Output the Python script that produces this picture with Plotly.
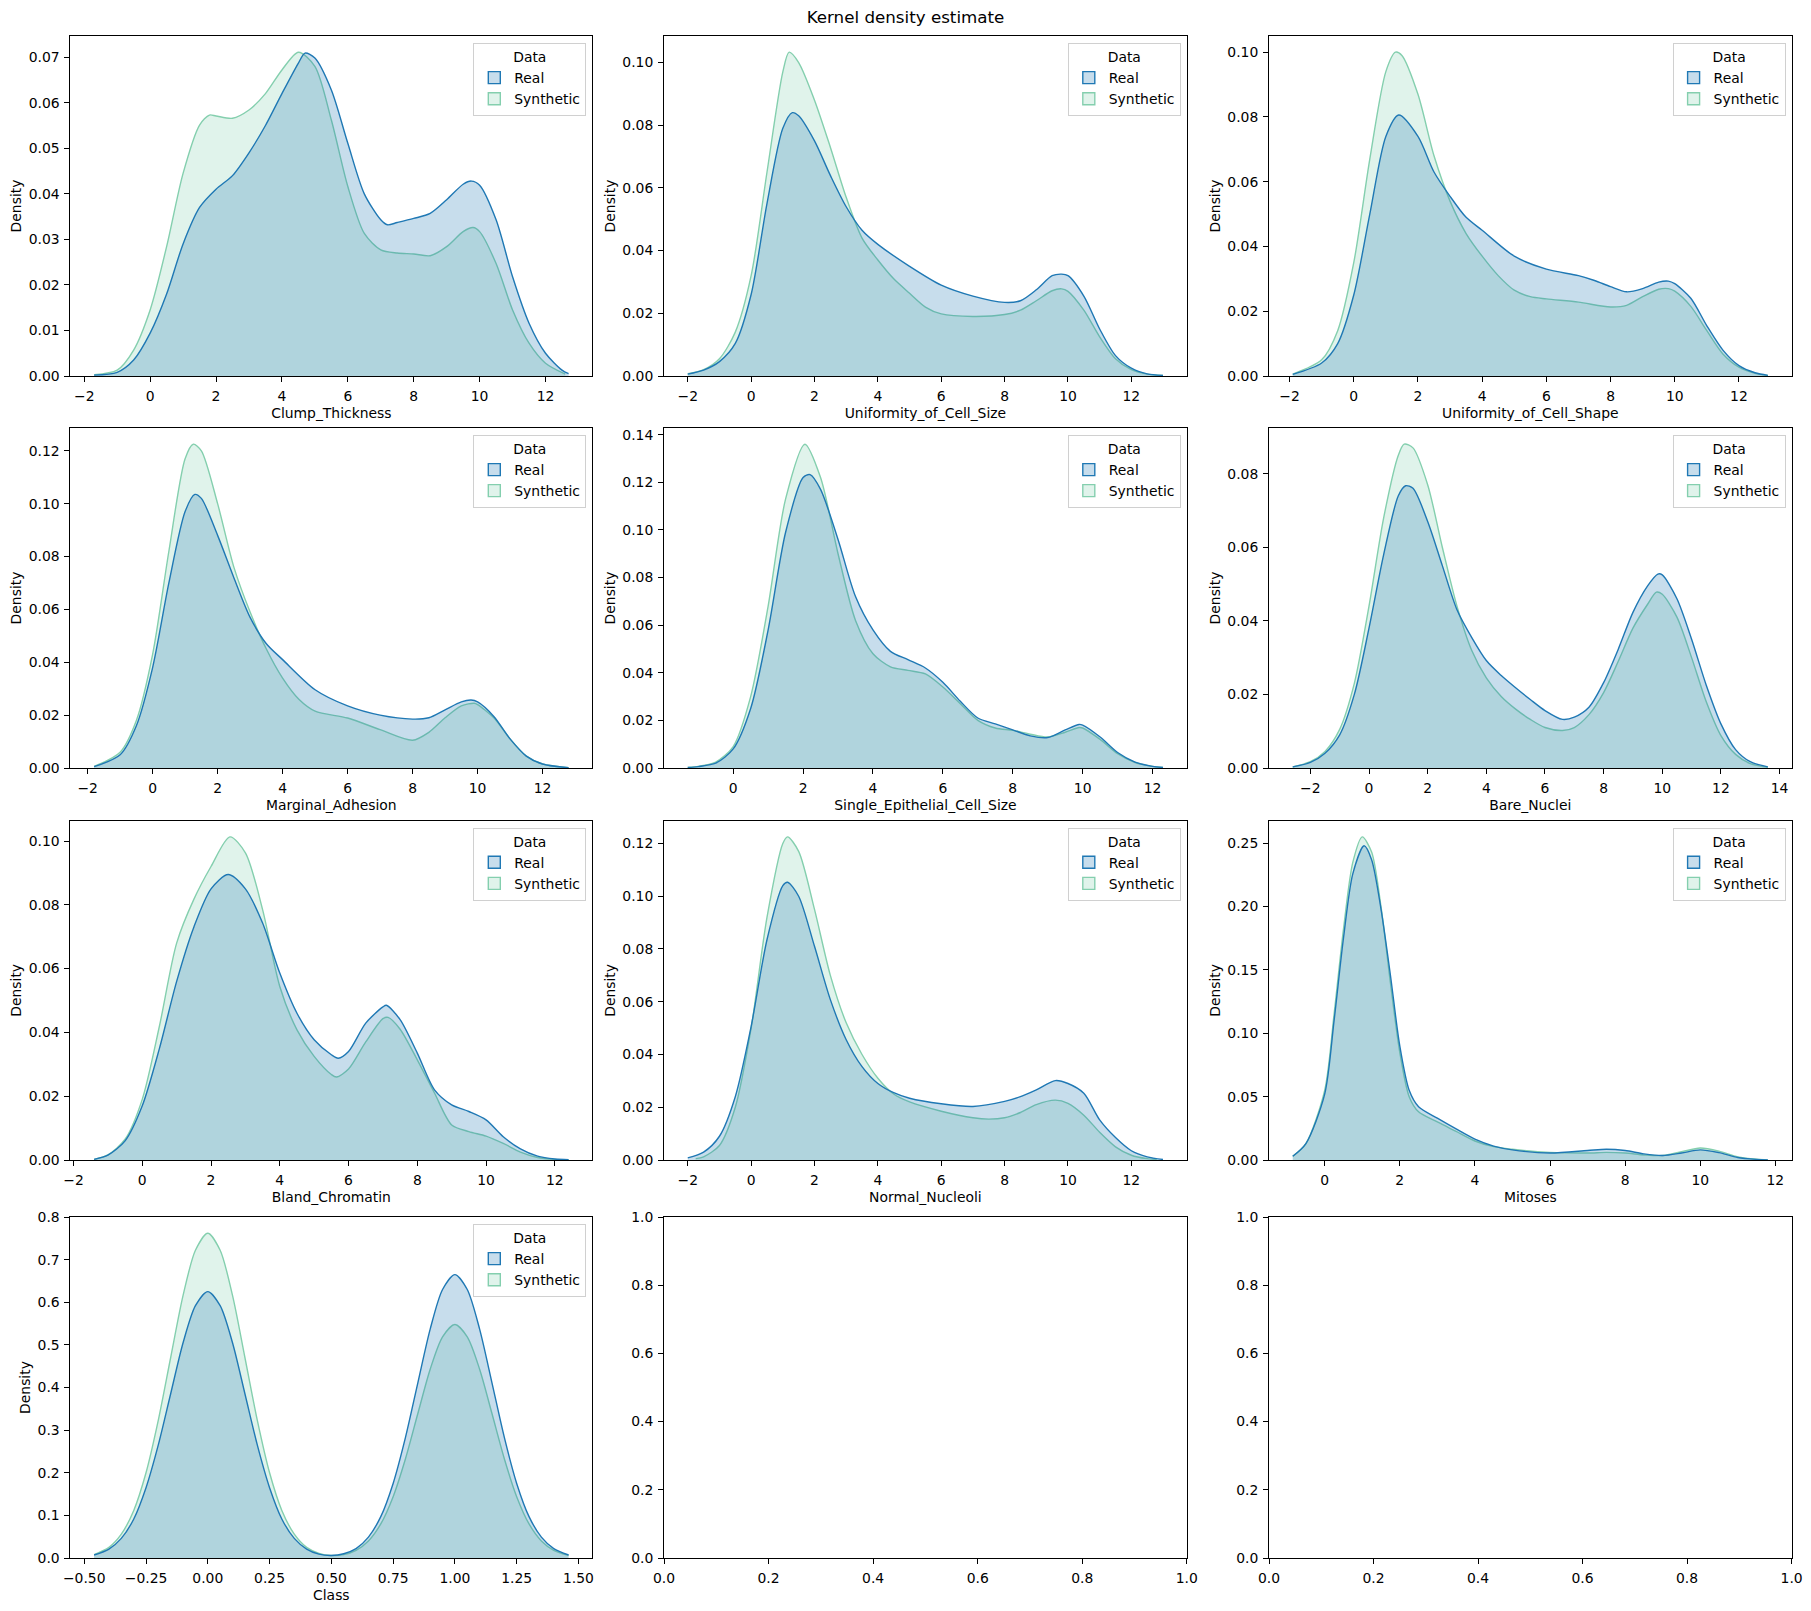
import plotly.graph_objects as go

# ---------------- data ----------------
FEATURES = ["Clump_Thickness", "Uniformity_of_Cell_Size", "Uniformity_of_Cell_Shape",
            "Marginal_Adhesion", "Single_Epithelial_Cell_Size", "Bare_Nuclei",
            "Bland_Chromatin", "Normal_Nucleoli", "Mitoses", "Class"]
SERIES = ["Real", "Synthetic"]

ct_real_x = [-1.7, -1.0, -0.5, 0.0, 0.5, 1.0, 1.5, 2.0, 2.5, 3.0, 3.5, 4.0, 4.5, 4.7, 5.0, 5.5, 6.0, 6.5, 7.0, 7.2, 7.5, 8.0, 8.5, 9.0, 9.5, 9.75, 10.0, 10.5, 11.0, 11.5, 12.0, 12.5, 12.7]
ct_real_y = [0.0002, 0.0008, 0.0035, 0.0094, 0.018, 0.029, 0.037, 0.041, 0.044, 0.049, 0.055, 0.062, 0.0687, 0.0709, 0.0698, 0.0628, 0.0511, 0.040, 0.0343, 0.0332, 0.0337, 0.0346, 0.0357, 0.0387, 0.0421, 0.0428, 0.0419, 0.0343, 0.0218, 0.0116, 0.005, 0.0013, 0.0005]
ct_syn_x = [-1.7, -1.0, -0.5, 0.0, 0.5, 1.0, 1.5, 1.8, 2.0, 2.5, 3.0, 3.5, 4.0, 4.5, 5.0, 5.5, 6.0, 6.5, 7.0, 7.5, 8.0, 8.5, 9.0, 9.5, 9.8, 10.0, 10.5, 11.0, 11.5, 12.0, 12.6]
ct_syn_y = [0.0003, 0.0013, 0.0057, 0.0145, 0.0284, 0.0445, 0.0551, 0.0573, 0.0571, 0.0566, 0.0584, 0.062, 0.0672, 0.0711, 0.068, 0.0562, 0.0416, 0.0313, 0.0277, 0.027, 0.0268, 0.0264, 0.0284, 0.0317, 0.0326, 0.0317, 0.0247, 0.0145, 0.0072, 0.0028, 0.0004]

ucs_real_x = [-2.0, -1.5, -1.0, -0.5, 0.0, 0.5, 1.0, 1.3, 1.5, 2.0, 2.5, 3.0, 3.5, 4.0, 5.0, 6.0, 7.0, 8.0, 8.5, 9.0, 9.5, 9.8, 10.0, 10.5, 11.0, 11.5, 12.0, 12.5, 13.0]
ucs_real_y = [0.0006, 0.0019, 0.0046, 0.0104, 0.026, 0.055, 0.079, 0.084, 0.083, 0.075, 0.064, 0.054, 0.0465, 0.042, 0.035, 0.029, 0.0255, 0.0235, 0.024, 0.0275, 0.032, 0.0325, 0.032, 0.0255, 0.015, 0.0065, 0.0025, 0.0007, 0.0002]
ucs_syn_x = [-2.0, -1.5, -1.0, -0.5, 0.0, 0.5, 1.0, 1.2, 1.5, 2.0, 2.5, 3.0, 3.5, 4.0, 4.5, 5.0, 5.5, 6.0, 7.0, 8.0, 8.5, 9.0, 9.5, 9.8, 10.0, 10.5, 11.0, 11.5, 12.0, 12.5, 13.0]
ucs_syn_y = [0.0007, 0.002, 0.0055, 0.014, 0.032, 0.065, 0.097, 0.1033, 0.1, 0.088, 0.073, 0.057, 0.044, 0.037, 0.031, 0.0264, 0.022, 0.0198, 0.019, 0.0196, 0.021, 0.024, 0.0272, 0.0278, 0.027, 0.021, 0.0125, 0.0055, 0.002, 0.0006, 0.0002]

ucsh_real_x = [-1.9, -1.0, -0.5, 0.0, 0.5, 1.0, 1.4, 2.0, 2.5, 3.0, 3.5, 4.0, 5.0, 6.0, 7.0, 7.5, 8.0, 8.5, 9.0, 9.5, 9.8, 10.0, 10.5, 11.0, 11.5, 12.0, 12.5, 12.9]
ucsh_real_y = [0.0005, 0.004, 0.01, 0.025, 0.05, 0.074, 0.0806, 0.074, 0.063, 0.0555, 0.049, 0.045, 0.037, 0.033, 0.031, 0.0295, 0.0276, 0.026, 0.027, 0.029, 0.0293, 0.0285, 0.024, 0.0155, 0.008, 0.0032, 0.001, 0.0002]
ucsh_syn_x = [-1.9, -1.0, -0.5, 0.0, 0.5, 1.0, 1.3, 1.5, 2.0, 2.5, 3.0, 3.5, 4.0, 4.5, 5.0, 5.5, 6.0, 7.0, 8.0, 8.5, 9.0, 9.5, 9.8, 10.0, 10.5, 11.0, 11.5, 12.0, 12.5, 12.9]
ucsh_syn_y = [0.0006, 0.005, 0.014, 0.035, 0.067, 0.094, 0.100, 0.099, 0.087, 0.068, 0.054, 0.044, 0.037, 0.031, 0.0265, 0.0245, 0.0238, 0.0228, 0.0213, 0.0218, 0.0245, 0.0268, 0.027, 0.0262, 0.0215, 0.014, 0.0068, 0.0027, 0.0008, 0.0002]

ma_real_x = [-1.8, -1.0, -0.5, 0.0, 0.5, 1.0, 1.3, 1.5, 2.0, 2.5, 3.0, 3.5, 4.0, 5.0, 6.0, 7.0, 8.0, 8.5, 9.0, 9.5, 9.8, 10.0, 10.5, 11.0, 11.5, 12.0, 12.8]
ma_real_y = [0.0005, 0.005, 0.016, 0.038, 0.07, 0.097, 0.1035, 0.102, 0.088, 0.072, 0.057, 0.047, 0.041, 0.0296, 0.0235, 0.020, 0.0185, 0.019, 0.022, 0.025, 0.0257, 0.025, 0.0195, 0.011, 0.0045, 0.0015, 0.0001]
ma_syn_x = [-1.8, -1.0, -0.5, 0.0, 0.5, 1.0, 1.25, 1.5, 2.0, 2.5, 3.0, 3.5, 4.0, 4.5, 5.0, 6.0, 7.0, 8.0, 8.5, 9.0, 9.5, 9.9, 10.0, 10.5, 11.0, 11.5, 12.0, 12.8]
ma_syn_y = [0.0006, 0.006, 0.018, 0.043, 0.082, 0.117, 0.1225, 0.12, 0.1, 0.076, 0.059, 0.045, 0.034, 0.026, 0.0215, 0.0189, 0.0145, 0.0105, 0.0135, 0.019, 0.0235, 0.0245, 0.024, 0.019, 0.011, 0.0045, 0.0015, 0.0001]

secs_real_x = [-1.3, -1.0, -0.5, 0.0, 0.5, 1.0, 1.5, 2.0, 2.2, 2.5, 3.0, 3.5, 4.0, 4.5, 5.0, 5.5, 6.0, 6.5, 7.0, 7.5, 8.0, 8.5, 9.0, 9.5, 9.9, 10.0, 10.5, 11.0, 11.5, 12.0, 12.3]
secs_real_y = [0.0002, 0.0006, 0.002, 0.008, 0.025, 0.058, 0.099, 0.122, 0.1232, 0.117, 0.096, 0.072, 0.058, 0.049, 0.0455, 0.042, 0.036, 0.028, 0.021, 0.0185, 0.016, 0.0135, 0.0128, 0.016, 0.0183, 0.018, 0.013, 0.0065, 0.0025, 0.0007, 0.0002]
secs_syn_x = [-1.3, -1.0, -0.5, 0.0, 0.5, 1.0, 1.5, 2.05, 2.5, 3.0, 3.5, 4.0, 4.5, 5.0, 5.5, 6.0, 6.5, 7.0, 7.5, 8.0, 8.5, 9.0, 9.5, 9.9, 10.0, 10.5, 11.0, 11.5, 12.0, 12.3]
secs_syn_y = [0.0002, 0.0007, 0.0025, 0.009, 0.03, 0.068, 0.113, 0.136, 0.122, 0.090, 0.062, 0.048, 0.0425, 0.041, 0.0395, 0.034, 0.027, 0.020, 0.0168, 0.0158, 0.0142, 0.013, 0.015, 0.017, 0.0168, 0.012, 0.006, 0.0023, 0.0007, 0.0002]

bn_real_x = [-2.6, -2.0, -1.5, -1.0, -0.5, 0.0, 0.5, 1.0, 1.25, 1.5, 2.0, 2.5, 3.0, 3.5, 4.0, 4.5, 5.0, 5.5, 6.0, 6.6, 7.0, 7.5, 8.0, 8.5, 9.0, 9.5, 9.85, 10.0, 10.5, 11.0, 11.5, 12.0, 12.5, 13.0, 13.6]
bn_real_y = [0.0003, 0.0015, 0.004, 0.009, 0.02, 0.038, 0.058, 0.074, 0.0767, 0.076, 0.067, 0.055, 0.043, 0.0355, 0.0292, 0.0252, 0.0218, 0.0186, 0.0156, 0.0132, 0.0138, 0.0165, 0.0232, 0.0323, 0.0423, 0.0495, 0.0527, 0.0525, 0.046, 0.035, 0.0225, 0.012, 0.005, 0.0017, 0.0003]
bn_syn_x = [-2.6, -2.0, -1.5, -1.0, -0.5, 0.0, 0.5, 1.0, 1.2, 1.5, 2.0, 2.5, 3.0, 3.5, 4.0, 4.5, 5.0, 5.5, 6.0, 6.6, 7.0, 7.5, 8.0, 8.5, 9.0, 9.5, 9.8, 10.0, 10.5, 11.0, 11.5, 12.0, 12.5, 13.0, 13.6]
bn_syn_y = [0.0003, 0.0017, 0.0045, 0.0105, 0.023, 0.044, 0.068, 0.085, 0.088, 0.087, 0.077, 0.060, 0.044, 0.032, 0.0245, 0.0195, 0.016, 0.0132, 0.011, 0.0102, 0.011, 0.0145, 0.0205, 0.029, 0.038, 0.0445, 0.0478, 0.0472, 0.041, 0.03, 0.018, 0.0088, 0.0037, 0.0012, 0.0002]

bc_real_x = [-1.4, -1.0, -0.5, 0.0, 0.5, 1.0, 1.5, 2.0, 2.5, 3.0, 3.5, 4.0, 4.5, 5.0, 5.5, 5.7, 6.0, 6.5, 7.0, 7.1, 7.5, 8.0, 8.5, 9.0, 9.5, 10.0, 10.5, 11.0, 11.5, 12.0, 12.4]
bc_real_y = [0.0002, 0.0015, 0.006, 0.017, 0.035, 0.056, 0.073, 0.085, 0.0895, 0.085, 0.0743, 0.0586, 0.046, 0.0377, 0.033, 0.0319, 0.034, 0.0429, 0.048, 0.0485, 0.044, 0.0335, 0.022, 0.0173, 0.0152, 0.0126, 0.0073, 0.0035, 0.0012, 0.0003, 0.0001]
bc_syn_x = [-1.4, -1.0, -0.5, 0.0, 0.5, 1.0, 1.5, 2.0, 2.55, 3.0, 3.5, 4.0, 4.5, 5.0, 5.5, 5.65, 6.0, 6.5, 7.0, 7.15, 7.5, 8.0, 8.5, 9.0, 9.5, 10.0, 10.5, 11.0, 11.5, 12.0, 12.4]
bc_syn_y = [0.0002, 0.0016, 0.0065, 0.019, 0.042, 0.068, 0.0817, 0.092, 0.1013, 0.0963, 0.0785, 0.0544, 0.0408, 0.0325, 0.0268, 0.026, 0.0285, 0.037, 0.0443, 0.0447, 0.041, 0.0314, 0.021, 0.011, 0.0089, 0.0075, 0.0052, 0.0025, 0.0008, 0.0002, 0.0001]

nn_real_x = [-2.0, -1.5, -1.0, -0.5, 0.0, 0.5, 1.0, 1.15, 1.5, 2.0, 2.5, 3.0, 3.5, 4.0, 4.5, 5.0, 6.0, 7.0, 8.0, 8.5, 9.0, 9.6, 10.0, 10.5, 11.0, 11.5, 12.0, 12.5, 13.0]
nn_real_y = [0.0008, 0.003, 0.009, 0.024, 0.0506, 0.0835, 0.104, 0.1053, 0.1, 0.081, 0.0608, 0.0456, 0.0354, 0.029, 0.0255, 0.0234, 0.0213, 0.0203, 0.0222, 0.024, 0.0266, 0.0301, 0.029, 0.0253, 0.0152, 0.0085, 0.0035, 0.0012, 0.0002]
nn_syn_x = [-1.75, -1.5, -1.0, -0.5, 0.0, 0.5, 1.0, 1.15, 1.5, 2.0, 2.5, 3.0, 3.5, 4.0, 4.5, 5.0, 6.0, 7.0, 7.5, 8.0, 8.5, 9.0, 9.6, 10.0, 10.5, 11.0, 11.5, 12.0, 12.5, 12.8]
nn_syn_y = [0.0005, 0.0012, 0.0055, 0.02, 0.05, 0.092, 0.12, 0.1225, 0.117, 0.095, 0.07, 0.052, 0.04, 0.031, 0.025, 0.022, 0.0185, 0.016, 0.0155, 0.016, 0.018, 0.021, 0.0227, 0.0215, 0.017, 0.0105, 0.005, 0.0018, 0.0005, 0.0002]

mi_real_x = [-0.85, -0.5, 0.0, 0.25, 0.5, 0.75, 1.05, 1.25, 1.5, 1.75, 2.0, 2.25, 2.5, 3.0, 3.5, 4.0, 4.5, 5.0, 6.0, 7.0, 7.5, 8.0, 8.5, 9.0, 9.5, 10.0, 10.5, 11.0, 11.5, 11.8]
mi_real_y = [0.003, 0.013, 0.052, 0.11, 0.175, 0.226, 0.248, 0.237, 0.198, 0.146, 0.09, 0.055, 0.042, 0.033, 0.0245, 0.0165, 0.011, 0.008, 0.0055, 0.0075, 0.0085, 0.0075, 0.0048, 0.0035, 0.0055, 0.008, 0.0058, 0.002, 0.0005, 0.0001]
mi_syn_x = [-0.85, -0.5, 0.0, 0.25, 0.5, 0.75, 1.0, 1.25, 1.5, 1.75, 2.0, 2.25, 2.5, 3.0, 3.5, 4.0, 4.5, 5.0, 6.0, 7.0, 7.5, 8.0, 8.5, 9.0, 9.5, 10.0, 10.5, 11.0, 11.5, 11.8]
mi_syn_y = [0.003, 0.013, 0.055, 0.115, 0.182, 0.235, 0.255, 0.243, 0.2, 0.14, 0.085, 0.05, 0.038, 0.03, 0.0225, 0.015, 0.0105, 0.0085, 0.006, 0.0055, 0.006, 0.0055, 0.004, 0.0035, 0.0065, 0.0095, 0.007, 0.0025, 0.0006, 0.0001]

cl_x = [-0.46, -0.40, -0.35, -0.30, -0.25, -0.20, -0.15, -0.10, -0.05, 0.00, 0.05, 0.10, 0.15, 0.20, 0.25, 0.30, 0.35, 0.40, 0.45, 0.50,
        0.55, 0.60, 0.65, 0.70, 0.75, 0.80, 0.85, 0.90, 0.95, 1.00, 1.05, 1.10, 1.15, 1.20, 1.25, 1.30, 1.35, 1.40, 1.46]
cl_real_y = [0.007, 0.021, 0.046, 0.091, 0.165, 0.266, 0.386, 0.505, 0.592, 0.625, 0.592, 0.505, 0.386, 0.266, 0.165, 0.091, 0.046, 0.021, 0.009, 0.006,
             0.010, 0.022, 0.049, 0.097, 0.175, 0.283, 0.411, 0.537, 0.630, 0.665, 0.630, 0.537, 0.411, 0.283, 0.175, 0.097, 0.049, 0.022, 0.007]
cl_syn_y = [0.008, 0.025, 0.056, 0.111, 0.200, 0.324, 0.471, 0.616, 0.722, 0.762, 0.722, 0.616, 0.471, 0.324, 0.200, 0.111, 0.056, 0.025, 0.011, 0.006,
            0.008, 0.018, 0.040, 0.080, 0.144, 0.233, 0.339, 0.443, 0.519, 0.548, 0.519, 0.443, 0.339, 0.233, 0.144, 0.080, 0.040, 0.018, 0.006]

EMPTY_TICKS = [0.0, 0.2, 0.4, 0.6, 0.8, 1.0]

# ---------------- styling ----------------
FONT = "DejaVu Sans"
REAL_LINE = "#1f78b4"
REAL_FILL = "rgba(31,120,180,0.25)"
SYN_LINE = "#84cfae"
SYN_FILL = "rgba(132,207,174,0.25)"

W, H = 1811, 1611
COL_PX = [(70.4, 592.3), (664.0, 1186.8), (1269.0, 1791.6)]
ROW_PX = [(36.0, 376.0), (428.0, 768.0), (820.7, 1160.0), (1217.0, 1558.0)]

# (name, real x, real y, syn x, syn y, y dtick, y format, x dtick, x format)
PANELS = [
    (FEATURES[0], ct_real_x, ct_real_y, ct_syn_x, ct_syn_y, 0.01, ".2f", 2, None),
    (FEATURES[1], ucs_real_x, ucs_real_y, ucs_syn_x, ucs_syn_y, 0.02, ".2f", 2, None),
    (FEATURES[2], ucsh_real_x, ucsh_real_y, ucsh_syn_x, ucsh_syn_y, 0.02, ".2f", 2, None),
    (FEATURES[3], ma_real_x, ma_real_y, ma_syn_x, ma_syn_y, 0.02, ".2f", 2, None),
    (FEATURES[4], secs_real_x, secs_real_y, secs_syn_x, secs_syn_y, 0.02, ".2f", 2, None),
    (FEATURES[5], bn_real_x, bn_real_y, bn_syn_x, bn_syn_y, 0.02, ".2f", 2, None),
    (FEATURES[6], bc_real_x, bc_real_y, bc_syn_x, bc_syn_y, 0.02, ".2f", 2, None),
    (FEATURES[7], nn_real_x, nn_real_y, nn_syn_x, nn_syn_y, 0.02, ".2f", 2, None),
    (FEATURES[8], mi_real_x, mi_real_y, mi_syn_x, mi_syn_y, 0.05, ".2f", 2, None),
    (FEATURES[9], cl_x, cl_real_y, cl_x, cl_syn_y, 0.1, ".1f", 0.25, ".2f"),
]

TICKFONT = dict(family=FONT, size=13.9, color="black")
AXIS_COMMON = dict(showline=True, mirror=True, linecolor="black", linewidth=1.1,
                   ticks="outside", ticklen=4.9, tickwidth=1.1, tickcolor="black",
                   showgrid=False, zeroline=False, automargin=False,
                   tickfont=TICKFONT, ticklabelstandoff=2)

fig = go.Figure()
layout = {}

for i in range(12):
    n = i + 1
    r, c = divmod(i, 3)
    xid = "x" if n == 1 else f"x{n}"
    yid = "y" if n == 1 else f"y{n}"
    xname = "xaxis" if n == 1 else f"xaxis{n}"
    yname = "yaxis" if n == 1 else f"yaxis{n}"
    x0, x1 = COL_PX[c]
    t0, t1 = ROW_PX[r]
    xdom = [x0 / W, x1 / W]
    ydom = [1 - t1 / H, 1 - t0 / H]

    if i < len(PANELS):
        name, rx, ry, sx, sy, ydt, yfmt, xdt, xfmt = PANELS[i]
        lg = "legend" if n == 1 else f"legend{n}"
        # curves (synthetic underneath, real on top)
        fig.add_trace(go.Scatter(
            x=sx, y=sy, mode="lines", name=SERIES[1], showlegend=False,
            line=dict(color=SYN_LINE, width=1.4, shape="spline", smoothing=0.8),
            fill="tozeroy", fillcolor=SYN_FILL, xaxis=xid, yaxis=yid, hoverinfo="skip"))
        fig.add_trace(go.Scatter(
            x=rx, y=ry, mode="lines", name=SERIES[0], showlegend=False,
            line=dict(color=REAL_LINE, width=1.4, shape="spline", smoothing=0.8),
            fill="tozeroy", fillcolor=REAL_FILL, xaxis=xid, yaxis=yid, hoverinfo="skip"))
        # legend patches
        for k, (lc, fc) in enumerate([(REAL_LINE, REAL_FILL), (SYN_LINE, SYN_FILL)]):
            fig.add_trace(go.Scatter(
                x=[None], y=[None], mode="markers", name=SERIES[k], legend=lg,
                legendrank=k + 1, showlegend=True,
                marker=dict(symbol="square", size=12, color=fc, line=dict(color=lc, width=1.4)),
                xaxis=xid, yaxis=yid, hoverinfo="skip"))

        xmin = min(min(rx), min(sx))
        xmax = max(max(rx), max(sx))
        pad = 0.05 * (xmax - xmin)
        ymax = max(max(ry), max(sy)) * 1.05

        xa = dict(AXIS_COMMON, domain=xdom, anchor=yid, range=[xmin - pad, xmax + pad],
                  tick0=0, dtick=xdt,
                  title=dict(text=name, font=TICKFONT, standoff=5))
        if xfmt:
            xa["tickformat"] = xfmt
        ya = dict(AXIS_COMMON, domain=ydom, anchor=xid, range=[0, ymax],
                  tick0=0, dtick=ydt, tickformat=yfmt,
                  title=dict(text="Density", font=TICKFONT, standoff=3))
        layout[xname] = xa
        layout[yname] = ya

        layout[lg] = dict(
            x=(x1 - 6) / W, y=1 - (t0 + 7) / H, xanchor="right", yanchor="top",
            xref="paper", yref="paper",
            bgcolor="rgba(255,255,255,0.8)", bordercolor="#d0d0d0", borderwidth=1,
            font=dict(family=FONT, size=13.9, color="black"),
            title=dict(text="Data", side="top center", font=dict(family=FONT, size=13.9, color="black")),
            itemwidth=30, tracegroupgap=0, traceorder="normal")
    else:
        # empty axes, as in the reference
        fig.add_trace(go.Scatter(x=[], y=[], xaxis=xid, yaxis=yid, showlegend=False, hoverinfo="skip"))
        layout[xname] = dict(AXIS_COMMON, domain=xdom, anchor=yid, range=[0, 1],
                             tickvals=EMPTY_TICKS, tickformat=".1f")
        layout[yname] = dict(AXIS_COMMON, domain=ydom, anchor=xid, range=[0, 1],
                             tickvals=EMPTY_TICKS, tickformat=".1f")

fig.update_layout(
    template="none",
    width=W, height=H,
    margin=dict(l=0, r=0, t=0, b=0),
    paper_bgcolor="white", plot_bgcolor="white",
    font=dict(family=FONT, size=13.9, color="black"),
    title=dict(text="Kernel density estimate", x=0.5, xanchor="center",
               y=1 - 17 / H, yanchor="middle",
               font=dict(family=FONT, size=16.7, color="black")),
    showlegend=True,
    **layout,
)

fig.write_html("out.html", config={"displayModeBar": False},
               post_script="document.body.style.margin='0';document.body.style.overflow='hidden';")
